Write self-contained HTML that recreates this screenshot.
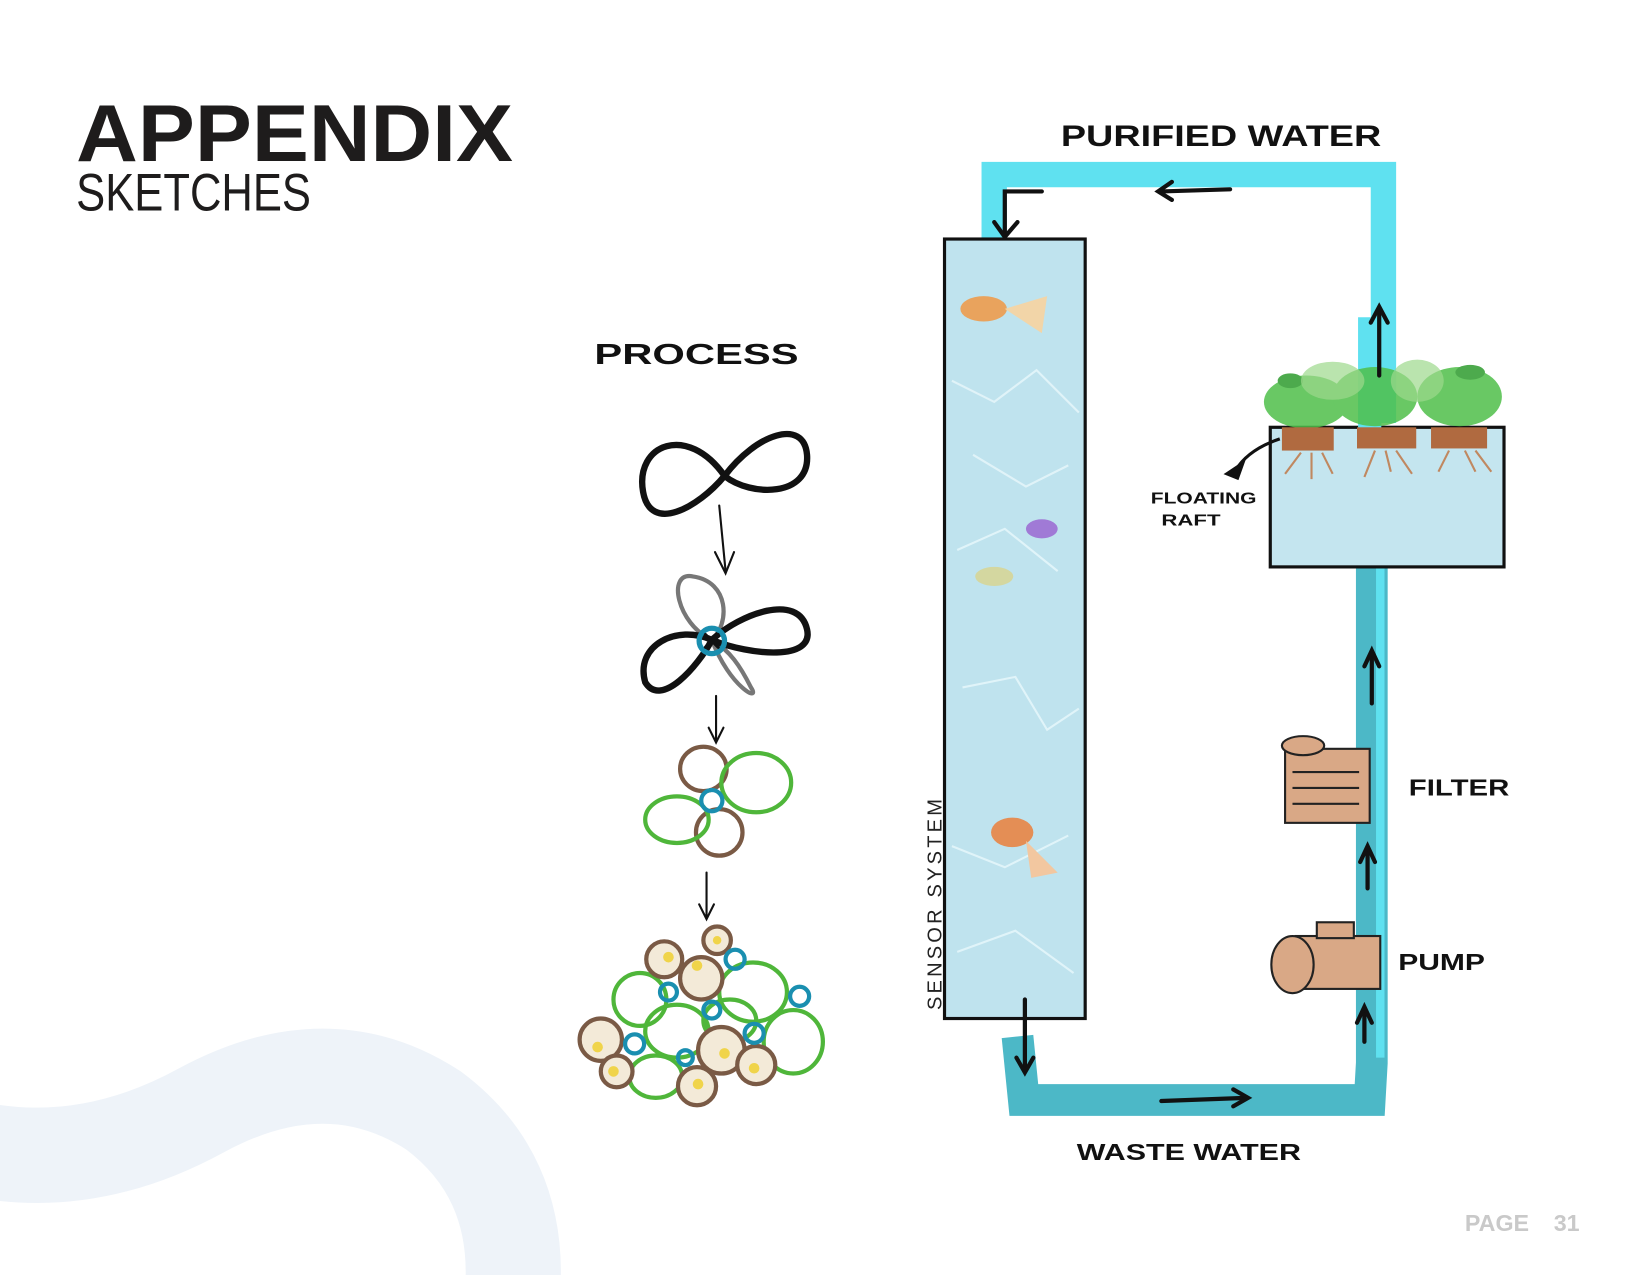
<!DOCTYPE html>
<html><head><meta charset="utf-8"><style>
html,body{margin:0;padding:0;background:#fff;}
svg{display:block;}
</style></head><body>
<svg width="1650" height="1275" viewBox="0 0 1560 1205.5" xmlns="http://www.w3.org/2000/svg" font-family="'Liberation Sans', sans-serif">
<rect width="1560" height="1206" fill="#fff"/>
<!-- background wave -->
<path d="M -30 1085 Q 80 1110 190 1050 Q 310 985 410 1050 Q 490 1110 485 1215" fill="none" stroke="#eef3f9" stroke-width="90"/>
<!-- title -->
<text x="72" y="152" font-size="76" font-weight="bold" fill="#1e1c1c" textLength="413" lengthAdjust="spacingAndGlyphs">APPENDIX</text>
<text x="72" y="199" font-size="50" fill="#1e1c1c" textLength="222" lengthAdjust="spacingAndGlyphs">SKETCHES</text>
<text x="1385" y="1164" font-size="22" font-weight="bold" fill="#c9c9c9">PAGE</text>
<text x="1469" y="1164" font-size="22" font-weight="bold" fill="#c9c9c9">31</text>

<!-- handwritten labels -->
<g font-weight="bold" fill="#111" font-family="'Liberation Sans', sans-serif">
<text x="1003" y="138" font-size="28" textLength="303" lengthAdjust="spacingAndGlyphs">PURIFIED WATER</text>
<text x="562" y="344" font-size="27" textLength="193" lengthAdjust="spacingAndGlyphs">PROCESS</text>
<text x="1018" y="1097" font-size="22" textLength="212" lengthAdjust="spacingAndGlyphs">WASTE  WATER</text>
<text x="1332" y="752" font-size="22" textLength="95" lengthAdjust="spacingAndGlyphs">FILTER</text>
<text x="1322" y="917" font-size="22" textLength="82" lengthAdjust="spacingAndGlyphs">PUMP</text>
<text x="1088" y="476" font-size="15" textLength="100" lengthAdjust="spacingAndGlyphs">FLOATING</text>
<text x="1098" y="497" font-size="15" textLength="56" lengthAdjust="spacingAndGlyphs">RAFT</text>
</g>
<text transform="translate(890 955) rotate(-90)" font-size="19" fill="#222" letter-spacing="3">SENSOR  SYSTEM</text>

<!-- pipes -->
<path d="M 940 228 L 940 165 L 1308 165 L 1308 400" fill="none" stroke="#5fe1f0" stroke-width="24"/>
<path d="M 1297 535 L 1297 1005 L 1295 1040 L 968 1040 L 962 980" fill="none" stroke="#4cb8c7" stroke-width="30"/>
<path d="M 1305 535 L 1305 1000" fill="none" stroke="#5fe1f0" stroke-width="8"/>

<!-- tall tank -->
<rect x="893" y="226" width="133" height="737" fill="#bfe3ee" stroke="#111" stroke-width="3"/>
<g stroke="#e9f7fb" stroke-width="2" fill="none" opacity="0.8">
<path d="M900 360 L940 380 L980 350 L1020 390"/><path d="M905 520 L950 500 L1000 540"/>
<path d="M910 650 L960 640 L990 690 L1020 670"/><path d="M900 800 L950 820 L1010 790"/>
<path d="M905 900 L960 880 L1015 920"/><path d="M920 430 L970 460 L1010 440"/>
</g>
<!-- fish -->
<g>
<ellipse cx="930" cy="292" rx="22" ry="12" fill="#e9a35d"/><path d="M950 292 L990 280 L985 315 Z" fill="#f2d5a8"/>
<ellipse cx="957" cy="787" rx="20" ry="14" fill="#e48e55"/><path d="M970 795 L1000 825 L975 830 Z" fill="#f2c7a0"/>
<ellipse cx="985" cy="500" rx="15" ry="9" fill="#a07ad6"/>
<ellipse cx="940" cy="545" rx="18" ry="9" fill="#d4d7a0"/>
</g>

<!-- raft tank -->
<rect x="1201" y="404" width="221" height="132" fill="#c4e5ef" stroke="#111" stroke-width="3"/>
<path d="M1295 300 L1295 405" stroke="#5fe1f0" stroke-width="22"/>
<g fill="#4fbf4a" opacity="0.85">
<ellipse cx="1235" cy="380" rx="40" ry="25"/><ellipse cx="1300" cy="375" rx="40" ry="28"/><ellipse cx="1380" cy="375" rx="40" ry="28"/>
<ellipse cx="1220" cy="360" rx="12" ry="7" fill="#2f9c2e"/><ellipse cx="1390" cy="352" rx="14" ry="7" fill="#2f9c2e"/>
</g>
<g fill="#9dd98c" opacity="0.7"><ellipse cx="1260" cy="360" rx="30" ry="18"/><ellipse cx="1340" cy="360" rx="25" ry="20"/></g>
<g fill="#b06a40"><rect x="1212" y="404" width="49" height="22"/><rect x="1283" y="404" width="56" height="20"/><rect x="1353" y="404" width="53" height="20"/></g>
<g stroke="#c08860" stroke-width="2"><path d="M1230 428 l-15 20 M1240 428 l0 25 M1250 428 l10 20 M1300 426 l-10 25 M1310 426 l5 20 M1320 426 l15 22 M1370 426 l-10 20 M1385 426 l10 20 M1395 426 l15 20"/></g>
<path d="M1210 415 Q1180 425 1168 445" fill="none" stroke="#111" stroke-width="3"/><path d="M1160 448 L1175 438 L1170 452 Z" fill="#111" stroke="#111" stroke-width="3"/>

<!-- arrows -->
<g stroke="#111" stroke-width="4" fill="none" stroke-linecap="round">
<path d="M985 181 L950 181 L950 222"/><path d="M940 210 L950 224 L962 210"/>
<path d="M1163 179 L1098 181"/><path d="M1108 172 L1095 181 L1108 189"/>
<path d="M1304 355 L1304 293"/><path d="M1296 305 L1304 290 L1312 305"/>
<path d="M969 945 L969 1012"/><path d="M961 1000 L969 1014 L977 1000"/>
<path d="M1098 1041 L1178 1038"/><path d="M1166 1030 L1180 1038 L1166 1046"/>
<path d="M1297 665 L1297 618"/><path d="M1290 630 L1297 615 L1304 630"/>
<path d="M1293 840 L1293 803"/><path d="M1286 815 L1293 800 L1300 815"/>
<path d="M1290 985 L1290 955"/><path d="M1283 967 L1290 952 L1297 967"/>
</g>

<!-- filter -->
<rect x="1215" y="708" width="80" height="70" fill="#d9a886" stroke="#222" stroke-width="2"/>
<ellipse cx="1232" cy="705" rx="20" ry="9" fill="#d9a886" stroke="#222" stroke-width="2"/>
<g stroke="#222" stroke-width="2"><path d="M1222 730 H1285 M1222 745 H1285 M1222 760 H1285"/></g>
<!-- pump -->
<rect x="1225" y="885" width="80" height="50" fill="#d9a886" stroke="#222" stroke-width="2"/>
<rect x="1245" y="872" width="35" height="15" fill="#d9a886" stroke="#222" stroke-width="2"/>
<ellipse cx="1222" cy="912" rx="20" ry="27" fill="#d9a886" stroke="#222" stroke-width="2"/>

<!-- process icons -->
<g fill="none" stroke-linecap="round">
<path d="M685 450 C650 400 600 420 608 465 C615 505 660 480 685 450 C715 410 760 395 763 430 C766 470 710 470 685 450 Z" stroke="#111" stroke-width="6"/>
<path d="M680 478 L686 540" stroke="#111" stroke-width="2"/><path d="M676 522 L686 542 L694 522" stroke="#111" stroke-width="2"/>
<path d="M673 605 C640 590 630 540 655 545 C690 550 690 590 673 605 C690 650 720 665 710 650 C700 630 690 615 673 605" stroke="#777" stroke-width="4"/>
<path d="M673 605 C640 590 600 610 610 645 C625 670 660 630 673 605 C710 620 770 625 763 595 C755 560 700 580 673 605" stroke="#111" stroke-width="6"/>
<circle cx="673" cy="606" r="12" stroke="#1a8fb0" stroke-width="5"/><path d="M667 600 L679 612 M679 600 L667 612" stroke="#111" stroke-width="3"/>
<path d="M677 658 L677 700" stroke="#111" stroke-width="2"/><path d="M670 688 L677 702 L684 688" stroke="#111" stroke-width="2"/>
<ellipse cx="665" cy="727" rx="22" ry="21" stroke="#7a5a45" stroke-width="4"/>
<ellipse cx="680" cy="787" rx="22" ry="22" stroke="#7a5a45" stroke-width="4"/>
<ellipse cx="640" cy="775" rx="30" ry="22" stroke="#4fb63a" stroke-width="4"/>
<ellipse cx="715" cy="740" rx="33" ry="28" stroke="#4fb63a" stroke-width="4"/>
<circle cx="673" cy="757" r="10" stroke="#1a8fb0" stroke-width="4"/>
<path d="M668 825 L668 867" stroke="#111" stroke-width="2"/><path d="M661 855 L668 869 L675 855" stroke="#111" stroke-width="2"/>
<g stroke="#4fb63a" stroke-width="4">
<ellipse cx="605" cy="945" rx="25" ry="25"/><ellipse cx="712" cy="938" rx="32" ry="28"/><ellipse cx="750" cy="985" rx="28" ry="30"/>
<ellipse cx="640" cy="975" rx="30" ry="25"/><ellipse cx="620" cy="1018" rx="25" ry="20"/><ellipse cx="690" cy="965" rx="25" ry="20"/>
</g>
<g stroke="#7a5a45" stroke-width="4" fill="#f3ead8">
<circle cx="628" cy="907" r="17"/><circle cx="663" cy="925" r="20"/><circle cx="678" cy="889" r="13"/>
<circle cx="568" cy="983" r="20"/><circle cx="583" cy="1013" r="15"/><circle cx="682" cy="993" r="22"/>
<circle cx="715" cy="1007" r="18"/><circle cx="659" cy="1027" r="18"/>
</g>
<g stroke="#1a8fb0" stroke-width="4">
<circle cx="695" cy="907" r="9"/><circle cx="756" cy="942" r="9"/><circle cx="632" cy="938" r="8"/><circle cx="673" cy="955" r="8"/>
<circle cx="713" cy="977" r="9"/><circle cx="600" cy="987" r="9"/><circle cx="648" cy="1000" r="7"/>
</g>
<g fill="#f0d44a" stroke="none">
<circle cx="632" cy="905" r="5"/><circle cx="659" cy="913" r="5"/><circle cx="678" cy="889" r="4"/><circle cx="565" cy="990" r="5"/>
<circle cx="580" cy="1013" r="5"/><circle cx="685" cy="996" r="5"/><circle cx="713" cy="1010" r="5"/><circle cx="660" cy="1025" r="5"/>
</g>
</g>
</svg>
</body></html>
